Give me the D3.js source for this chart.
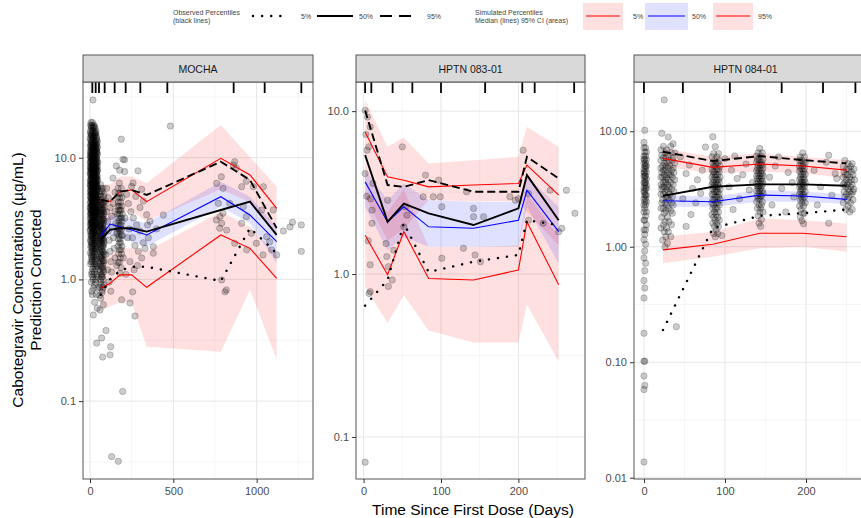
<!DOCTYPE html>
<html>
<head>
<meta charset="utf-8">
<script src="https://cdnjs.cloudflare.com/ajax/libs/d3/7.8.5/d3.min.js"></script>
<style>
  body { margin: 0; background: #fff; }
  svg { display: block; font-family: "Liberation Sans", Arial, sans-serif; }
</style>
</head>
<body>
<div id="chart"></div>
<script>
// ---------------- data ----------------

// MOCHA
const mochaRug = [14, 34, 54, 88, 148, 214, 302, 464, 862, 1048, 1268];
const mochaBinDays = [64, 120, 180, 250, 340, 785, 960, 1120];
const mochaObs5  = [0.75, 1.0, 1.18, 1.27, 1.27, 0.97, 2.64, 1.64];
const mochaObs50 = [2.11, 2.55, 2.63, 2.63, 2.47, 3.72, 4.35, 2.32];
const mochaObs95 = [4.5, 4.35, 5.26, 5.44, 4.94, 9.27, 6.56, 2.64];
const mochaSim5  = [0.845, 0.929, 1.09, 1.09, 0.861, 2.32, 1.80, 1.02];
const mochaSim50 = [2.27, 2.85, 2.71, 2.55, 2.32, 4.78, 3.38, 2.04];
const mochaSim95 = [4.49, 4.35, 5.26, 5.44, 4.35, 9.89, 7.21, 3.84];
const mochaSim5Lo  = [0.55, 0.6, 0.65, 0.65, 0.28, 0.255, 0.82, 0.22];
const mochaSim5Hi  = [1.5, 1.6, 1.8, 1.8, 1.7, 3.6, 2.7, 1.6];
const mochaSim50Lo = [1.85, 2.3, 2.2, 2.05, 1.86, 3.95, 2.89, 1.36];
const mochaSim50Hi = [2.8, 3.4, 3.3, 3.1, 2.9, 6.35, 4.78, 2.71];
const mochaSim95Lo = [3.0, 3.0, 3.6, 3.6, 3.0, 5.5, 4.3, 2.3];
const mochaSim95Hi = [6.0, 6.0, 7.0, 7.0, 6.16, 18.6, 10.1, 5.78];

// observed points, rows of [value, [days]]
const mochaColA = [
  [19.5,[6,15]],[18.5,[3,11,24]],[17.5,[8,18,30]],[16.5,[2,13,22,36]],[15.5,[5,10,27,33]],
  [14.5,[1,16,20,39]],[13.5,[7,12,25,31,44]],[12.7,[4,14,19,28,37]],[12,[9,17,23,34,42]],
  [11.3,[2,11,21,29,40]],[10.7,[6,15,26,32,45]],[10.1,[3,13,18,24,36]],[9.6,[8,10,20,30,41]],
  [9.1,[1,12,22,27,38,46]],[8.6,[5,16,19,33,43]],[8.2,[4,9,25,29,35]],[7.8,[7,14,21,31,40,44]],
  [7.4,[2,11,17,26,37]],[7.0,[6,13,23,28,34,42]],[6.6,[3,10,19,30,39,45]],[6.3,[8,15,22,27,36]],
  [6.0,[1,12,18,24,32,41]],[5.7,[5,9,20,29,38,46]],[5.4,[4,14,25,33,43]],[5.1,[7,11,16,21,31,37]],
  [4.85,[2,13,23,28,35,44]],[4.6,[6,10,18,26,40]],[4.35,[3,15,20,30,39,45]],[4.1,[8,12,24,32,42]],
  [3.9,[1,17,22,27,36]],[3.7,[5,9,14,29,34,41]],[3.5,[4,11,19,25,38,46]],[3.3,[7,16,21,31,43]],
  [3.1,[2,13,23,28,35]],[2.95,[6,10,18,33,40]],[2.8,[3,15,26,30,44]],[2.65,[8,12,20,37]],
  [2.5,[1,17,24,29,42]],[2.35,[5,14,22,34]],[2.2,[9,19,27,39]],[2.05,[4,11,31,45]],
  [1.9,[7,16,25,36]],[1.78,[13,21,33,41]],[1.65,[2,18,28]],[1.52,[10,23,38]],[1.4,[6,15,30]],
  [1.28,[20,35,44]],[1.15,[12,26]],[1.05,[17,40]],[0.95,[8,32]],[0.85,[22,46]],[0.75,[14,37]],
  [0.65,[28]],[0.58,[43]],[0.51,[20]],[0.3,[40]],[29.8,[18]]
];
const mochaColA2 = [
  [18,[9,21,27]],[16,[4,17,29,34]],[15,[8,19,24,38]],[14,[3,11,23,35,42]],[13,[6,16,21,30,40]],
  [12.3,[2,10,26,33,45]],[11.6,[7,14,19,31,38]],[11,[4,12,24,36,43]],[10.4,[1,9,17,28,41]],
  [9.9,[6,15,22,33,39]],[9.3,[3,11,25,31,44]],[8.9,[8,13,20,27,36]],[8.4,[2,10,18,30,42]],
  [8.0,[5,16,23,34,46]],[7.6,[1,9,19,28,39]],[7.2,[4,15,21,32,43]],[6.8,[7,12,25,36,41]],
  [6.45,[2,17,24,31,44]],[6.15,[5,11,20,29,38]],[5.85,[3,14,26,35,42]],[5.55,[8,18,23,32,45]],
  [5.25,[1,10,22,27,40]],[5.0,[6,15,24,30,37]],[4.7,[4,12,20,33,41]],[4.45,[9,17,28,35,46]],
  [4.2,[2,14,19,25,38]],[4.0,[6,11,23,30,44]],[3.8,[3,16,21,32,40]],[3.6,[8,13,27,35,43]],
  [3.4,[1,10,24,30,37]],[3.2,[5,18,26,33,45]],[3.0,[9,14,21,39]],[2.87,[4,12,28,36]],
  [2.72,[7,19,25,41]],[2.58,[2,16,31,38]],[2.42,[10,22,27,44]],[2.28,[6,13,33,40]],
  [2.12,[3,18,25,36]],[1.98,[9,21,29,43]],[1.84,[5,14,34]],[1.7,[11,24,39]],[1.58,[8,19,32]],
  [1.46,[13,27,41]],[1.34,[4,25,37]],[1.22,[16,31]],[1.1,[9,23,42]],[1.0,[19,35]],[0.9,[27]],[0.8,[11]]
];
const mochaColB = [
  [6.0,[64]],[5.3,[72,60]],[4.8,[80,66]],[4.3,[62,76,84]],[3.9,[68,58,80]],[3.6,[74,64,82]],
  [3.3,[60,70,78]],[3.05,[66,84,72]],[2.8,[58,76,62]],[2.6,[68,80,74]],[2.4,[64,72,84]],
  [2.2,[60,78,70]],[2.05,[66,82]],[1.9,[74,62,80]],[1.75,[58,70]],[1.6,[76,66,84]],[1.48,[64,72]],
  [1.36,[60,80]],[1.25,[68,76]],[1.15,[62,82]],[1.05,[74,70]],[0.95,[66]],[0.86,[78,60]],
  [0.78,[72]],[0.7,[64]],[0.62,[80]],[0.56,[60]],[0.33,[70]],[0.23,[76]]
];
const mochaColB2 = [
  [5.6,[68,78]],[5.0,[62,84]],[4.5,[70,58]],[4.1,[66,74,82]],[3.75,[60,72,78]],[3.45,[68,84,62]],
  [3.15,[74,58,80]],[2.9,[64,70,82]],[2.7,[60,78,66]],[2.5,[72,84,58]],[2.3,[62,68,76]],
  [2.12,[80,64,72]],[1.97,[58,70,84]],[1.82,[66,78]],[1.68,[62,74,82]],[1.54,[60,68]],
  [1.42,[70,78,84]],[1.3,[64,74]],[1.2,[58,80]],[1.1,[66,72]],[1.0,[62,78]],[0.9,[68,84]],
  [0.82,[74]],[0.74,[58]]
];
const mochaColC = [
  [6.2,[176]],[5.6,[168,188]],[5.1,[182,172]],[4.7,[192,178,166]],[4.3,[184,170]],[4.0,[176,190,168]],
  [3.7,[180,186,172]],[3.45,[166,194,178]],[3.2,[184,170,188]],[3.0,[174,192]],[2.8,[168,180,186]],
  [2.6,[176,190,172]],[2.45,[182,166]],[2.3,[188,174,194]],[2.15,[170,180]],[2.0,[184,176]],
  [1.87,[192,168]],[1.75,[178,186]],[1.62,[172,190]],[1.5,[182]],[1.38,[168,176]],[1.25,[186]],
  [1.12,[180]],[0.68,[190]]
];
const mochaScatter = [
  [96,0.38],[120,0.24],[124,0.28],[130,0.035],[170,0.032],[196,0.12],[188,14.2],[198,9.7],[208,9.6],
  [158,8.55],[178,7.9],[208,7.7],[288,7.8],[138,6.8],[258,6.2],[482,18.2],
  [95,4.4],[100,3.6],[105,3.0],[110,2.5],[115,2.1],[120,1.7],[125,1.4],[130,3.3],[135,2.7],
  [140,2.2],[145,1.8],[150,1.5],[155,2.9],[160,2.4],[100,5.6],[110,4.7],[120,3.9],[130,1.15],
  [140,4.2],[150,3.6],[160,1.3],[95,1.6],[105,1.2],[115,0.95],[125,0.8],
  [150,5.2],[220,5.0],[230,4.2],[245,3.6],[260,3.2],[280,2.8],[300,3.9],[320,4.4],[340,3.4],
  [235,2.6],[255,2.2],[270,1.9],[290,1.7],[310,1.5],[330,1.8],[350,2.2],[240,1.4],[265,1.2],
  [285,1.3],[215,1.1],[256,0.79],[270,0.5],[240,0.64],[300,2.5],[320,2.0],[345,2.8],[210,3.2],
  [225,2.2],[200,1.5],[360,3.0],[275,4.8],[310,5.5],[250,5.8],
  [440,3.38],[380,1.86],[380,1.64],[400,2.6],[760,6.16],[770,4.22],[780,3.28],[790,2.89],[820,2.54],
  [790,0.99],[810,0.79],[818,0.82],[860,8.7],[910,5.78],[980,5.78],[1040,5.78],[920,3.96],
  [910,2.89],[940,1.75],[1030,3.72],[1060,2.24],[1090,1.75],[1100,3.72],[1120,1.59],[788,6.98],
  [798,5.6],[868,9.27],[878,8.2],[938,6.4],[758,3.08],[778,2.63],[798,3.5],[838,4.22],[868,1.98],
  [938,3.28],[968,2.39],[998,1.98],[1038,1.59],[1078,2.04],[1160,2.5],[1200,2.7],[1215,2.95],
  [1268,2.8],[1268,1.7]
];

// HPTN 083-01
const h083Rug = [2, 10, 37.5, 63, 100, 157, 205, 221, 272];
const h083BinDays = [2, 31, 52, 84, 142, 200, 211, 252];
const h083Obs5  = [0.64, 0.92, 2.05, 1.03, 1.19, 1.31, 2.14, 2.0];
const h083Obs50 = [5.37, 2.09, 2.71, 2.36, 2.0, 2.53, 4.05, 2.14];
const h083Obs95 = [10.1, 3.52, 3.43, 3.77, 3.2, 3.2, 5.25, 3.86];
const h083Sim5  = [1.73, 0.99, 1.82, 0.94, 0.92, 1.06, 2.09, 0.86];
const h083Sim50 = [3.68, 2.09, 2.59, 1.95, 1.91, 2.14, 3.27, 1.82];
const h083Sim95 = [7.46, 3.95, 3.77, 3.43, 3.52, 3.6, 4.66, 3.05];
const h083Sim5Lo  = [0.83, 0.50, 0.74, 0.45, 0.38, 0.38, 0.65, 0.29];
const h083Sim5Hi  = [3.2, 2.4, 3.3, 1.47, 1.47, 1.5, 3.1, 1.7];
const h083Sim50Lo = [2.59, 1.40, 1.69, 1.47, 1.47, 1.47, 2.59, 1.16];
const h083Sim50Hi = [4.35, 2.84, 3.6, 2.84, 2.78, 2.78, 3.95, 2.59];
const h083Sim95Lo = [3.0, 1.6, 1.9, 2.84, 2.8, 2.8, 2.4, 1.5];
const h083Sim95Hi = [11.7, 6.04, 6.9, 4.78, 5.0, 5.25, 8.0, 6.04];
const h083Points = [
  [2,10.1],[8.6,8.0],[6.5,6.04],[4.4,5.76],[2,4.14],[3,7.2],[5,9.2],[10.8,2.05],[8.6,1.14],
  [8.6,0.78],[7,0.76],[9,2.9],[11,2.47],[12,3.6],[4,3.0],[6,1.6],[2,0.07],[32,1.11],[32,0.84],
  [29,1.54],[30,1.28],[39,1.4],[31,2.84],[37,0.92],[52,1.95],[50,6.04],[54,2.59],[56,2.3],
  [80,4.05],[77,2.98],[90,2.98],[97,3.77],[99,2.98],[101,2.59],[101,1.25],[129,1.44],[133,3.2],
  [142,2.53],[142,2.25],[144,1.31],[151,1.19],[155,2.25],[189,2.98],[196,2.84],[200,2.9],
  [206,5.75],[213,3.12],[213,2.14],[232,2.05],[241,3.27],[252,1.82],[256,1.91],[262,3.27],[273,2.36]
];

// HPTN 084-01
const h084Rug = [0, 48, 106, 170, 221, 261];
const h084BinDays = [23.5, 85, 143, 196, 250];
const h084Obs5  = [0.19, 1.45, 1.85, 1.95, 2.1];
const h084Obs50 = [2.76, 3.31, 3.47, 3.47, 3.37];
const h084Obs95 = [6.65, 5.52, 6.1, 5.63, 5.27];
const h084Sim5  = [0.94, 1.05, 1.31, 1.31, 1.22];
const h084Sim50 = [2.5, 2.45, 2.8, 2.75, 2.57];
const h084Sim95 = [5.82, 4.87, 5.2, 5.0, 4.61];
const h084Sim5Lo  = [0.72, 0.82, 0.97, 1.0, 0.905];
const h084Sim5Hi  = [1.22, 1.35, 1.76, 1.70, 1.59];
const h084Sim50Lo = [2.22, 2.22, 2.45, 2.45, 2.34];
const h084Sim50Hi = [2.80, 2.71, 3.10, 2.99, 2.86];
const h084Sim95Lo = [4.93, 4.32, 4.46, 4.32, 3.91];
const h084Sim95Hi = [7.11, 6.01, 6.44, 6.01, 5.63];
const h084Col0 = [
  [10.2,[1]],[8.0,[0]],[7.2,[2,0]],[6.6,[1,3]],[6.1,[0,2]],[5.7,[1,3,0]],[5.3,[2,0]],[5.0,[1,3,2]],
  [4.7,[0,2]],[4.4,[1,3,0]],[4.1,[2,0,1]],[3.85,[3,1]],[3.6,[0,2,1]],[3.4,[1,3]],[3.2,[2,0,3]],
  [3.0,[1,0]],[2.8,[3,2,1]],[2.6,[0,2]],[2.45,[1,3]],[2.3,[0,2]],[2.15,[1]],[2.0,[3,0]],[1.85,[2]],
  [1.7,[1,0]],[1.55,[3]],[1.4,[0,2]],[1.28,[1]],[1.15,[0]],[1.05,[2]],[0.92,[1]],[0.8,[0]],
  [0.72,[2]],[0.62,[1]],[0.51,[0]],[0.44,[1]],[0.36,[0]],[0.178,[0]],[0.102,[1,0]],[0.076,[0]],
  [0.063,[1]],[0.058,[0]],[0.0137,[0]]
];
const h084Col1 = [
  [18.7,[25]],[9.6,[22]],[8.9,[30]],[7.8,[36]],[7.4,[24,33]],[6.9,[28,21]],[6.5,[34,26,38]],
  [6.2,[22,30]],[5.9,[27,36,24]],[5.6,[31,21,35]],[5.3,[25,29,38]],[5.0,[23,32,27]],[4.8,[36,21,30]],
  [4.6,[26,34,24]],[4.4,[29,22,37]],[4.2,[31,25,33]],[4.0,[23,28,35,21]],[3.8,[30,26,38]],
  [3.6,[24,33,27]],[3.45,[21,29,36]],[3.3,[31,25,23]],[3.15,[34,28,22]],[3.0,[26,37,30]],
  [2.85,[24,32,21]],[2.7,[29,35,27]],[2.55,[23,31]],[2.4,[26,34,22]],[2.3,[28,36]],[2.15,[24,30,21]],
  [2.05,[33,27]],[1.95,[25,35]],[1.8,[22,29]],[1.65,[31,26]],[1.55,[24,34]],[1.45,[21,28]],
  [1.35,[30,25]],[1.22,[27,33]],[1.14,[23]],[1.07,[29]],[1.0,[26]],[0.203,[40]]
];
const h084Col2 = [
  [8.97,[85]],[7.35,[88]],[6.4,[92,86]],[6.0,[90,84]],[5.6,[87,93]],[5.3,[85,91,89]],[5.0,[94,86,88]],
  [4.7,[84,90,92]],[4.45,[87,93,85]],[4.2,[89,91,86]],[4.0,[84,88,94]],[3.8,[90,86,92]],
  [3.6,[85,89,93]],[3.45,[87,91,84]],[3.3,[92,86,88]],[3.15,[90,85,94]],[3.0,[87,91,89]],
  [2.85,[84,93,86]],[2.7,[88,90,92]],[2.55,[85,87,94]],[2.4,[89,91,84]],[2.3,[86,93]],
  [2.15,[88,90,85]],[2.0,[92,87]],[1.9,[84,89]],[1.8,[91,86]],[1.7,[88,93]],[1.6,[85,90]],
  [1.5,[87,92]],[1.4,[89]],[1.3,[86,91]],[1.22,[88]]
];
const h084Col3 = [
  [7.1,[143]],[6.5,[141,146]],[6.1,[139,144]],[5.7,[142,147,140]],[5.4,[145,139,143]],
  [5.1,[141,146,144]],[4.8,[140,143,147]],[4.55,[142,145,139]],[4.3,[144,141,146]],[4.1,[139,143,147]],
  [3.9,[142,145,140]],[3.7,[144,141,146]],[3.5,[139,143,147]],[3.35,[142,145,140]],[3.2,[144,141]],
  [3.05,[146,139,143]],[2.9,[142,147]],[2.75,[140,145,144]],[2.6,[141,143]],[2.45,[146,139]],
  [2.3,[142,145]],[2.15,[140,144]],[2.0,[143,147]],[1.85,[141]],[1.72,[145]],[1.6,[142]],[1.5,[144]]
];
const h084Col4 = [
  [6.5,[196]],[6.0,[193,198]],[5.6,[195,192]],[5.3,[197,194,199]],[5.0,[192,196]],[4.75,[198,193,195]],
  [4.5,[197,192]],[4.25,[194,199,196]],[4.0,[193,197]],[3.8,[195,192,198]],[3.6,[194,196,199]],
  [3.45,[193,197]],[3.3,[192,195,198]],[3.15,[194,196]],[3.0,[199,193]],[2.85,[197,195,192]],
  [2.7,[194,198]],[2.55,[196,193]],[2.4,[199,195]],[2.25,[192,197]],[2.1,[194]],[1.95,[196,198]],
  [1.8,[193]],[1.68,[195]],[1.58,[197]]
];
const h084Col5 = [
  [5.6,[248]],[5.25,[252,257]],[4.95,[246,255]],[4.7,[250,259,253]],[4.45,[247,256]],
  [4.2,[251,258,249]],[4.0,[254,246]],[3.8,[260,250,256]],[3.6,[248,253]],[3.45,[257,251,246]],
  [3.3,[255,249]],[3.15,[259,252]],[3.0,[247,254,258]],[2.85,[250,256]],[2.7,[253,248]],
  [2.55,[258,251]],[2.4,[246,255]],[2.25,[252]],[2.1,[257,249]],[2.0,[254]]
];
const h084Scatter = [
  [45,6.0],[52,4.3],[60,3.2],[48,2.6],[56,5.1],[66,3.8],[72,4.6],[64,2.4],[58,1.9],[70,2.9],[76,7.3],
  [100,5.8],[108,4.6],[115,3.9],[122,4.2],[130,3.1],[105,3.3],[118,2.6],[126,5.2],[112,6.1],
  [134,3.6],[110,2.1],[155,4.0],[162,5.0],[170,3.2],[178,4.4],[185,2.7],[158,2.3],[166,6.0],
  [175,2.0],[183,3.6],[210,4.6],[218,3.3],[225,5.4],[232,2.8],[238,3.9],[214,2.3],[228,6.2],
  [236,4.3],[52,1.5],[96,1.25],[228,1.6]
];

// axis ticks
const mochaXTicks = [0, 500, 1000];
const hptnXTicks = [0, 100, 200];
const yTicks2 = [0.1, 1, 10];
const yTicks3 = [0.01, 0.1, 1, 10];
const yMinorAll = [0.00316, 0.0316, 0.316, 3.16, 31.6];

// ---------------- layout ----------------
const width = 861, height = 518;
const plotTop = 82, plotBottom = 479, stripTop = 55;

function rowsToPoints(rows){
  return rows.flatMap(([v, days]) => days.map(t => [t, v]));
}

const panels = [
  { name: "MOCHA", left: 83, right: 313, xDomain: [-42, 1338], yDomain: [0.0229, 41.9],
    xTicks: mochaXTicks, xMinor: [250, 750, 1250], yTicks: yTicks2, yFmt: d3.format(".1f"),
    rug: mochaRug, t: mochaBinDays,
    obs5: mochaObs5, obs50: mochaObs50, obs95: mochaObs95,
    sim5: mochaSim5, sim50: mochaSim50, sim95: mochaSim95,
    s5lo: mochaSim5Lo, s5hi: mochaSim5Hi, s50lo: mochaSim50Lo, s50hi: mochaSim50Hi,
    s95lo: mochaSim95Lo, s95hi: mochaSim95Hi,
    points: [...rowsToPoints(mochaColA), ...rowsToPoints(mochaColA2), ...rowsToPoints(mochaColB),
             ...rowsToPoints(mochaColB2), ...rowsToPoints(mochaColC), ...mochaScatter] },
  { name: "HPTN 083-01", left: 356, right: 585, xDomain: [-9.8, 286], yDomain: [0.0552, 15.1],
    xTicks: hptnXTicks, xMinor: [50, 150, 250], yTicks: yTicks2, yFmt: d3.format(".1f"),
    rug: h083Rug, t: h083BinDays,
    obs5: h083Obs5, obs50: h083Obs50, obs95: h083Obs95,
    sim5: h083Sim5, sim50: h083Sim50, sim95: h083Sim95,
    s5lo: h083Sim5Lo, s5hi: h083Sim5Hi, s50lo: h083Sim50Lo, s50hi: h083Sim50Hi,
    s95lo: h083Sim95Lo, s95hi: h083Sim95Hi,
    points: h083Points },
  { name: "HPTN 084-01", left: 634, right: 864, xDomain: [-12.3, 271.6], yDomain: [0.00975, 26.7],
    xTicks: hptnXTicks, xMinor: [50, 150, 250], yTicks: yTicks3, yFmt: d3.format(".2f"),
    rug: h084Rug, t: h084BinDays,
    obs5: h084Obs5, obs50: h084Obs50, obs95: h084Obs95,
    sim5: h084Sim5, sim50: h084Sim50, sim95: h084Sim95,
    s5lo: h084Sim5Lo, s5hi: h084Sim5Hi, s50lo: h084Sim50Lo, s50hi: h084Sim50Hi,
    s95lo: h084Sim95Lo, s95hi: h084Sim95Hi,
    points: [...rowsToPoints(h084Col0), ...rowsToPoints(h084Col1), ...rowsToPoints(h084Col2),
             ...rowsToPoints(h084Col3), ...rowsToPoints(h084Col4), ...rowsToPoints(h084Col5), ...h084Scatter] }
];

const svg = d3.select("#chart").append("svg")
    .attr("width", width)
    .attr("height", height);

function drawPanel(p, i){
    const x = d3.scaleLinear().domain(p.xDomain).range([p.left, p.right]);
    const y = d3.scaleLog().domain(p.yDomain).range([plotBottom, plotTop]);
    const g = svg.append("g").attr("class", "panelG");

    svg.append("clipPath").attr("id", "clip" + i)
        .append("rect")
        .attr("x", p.left).attr("y", plotTop)
        .attr("width", p.right - p.left).attr("height", plotBottom - plotTop);

    const inner = g.append("g").attr("clip-path", "url(#clip" + i + ")");

    inner.append("rect")
        .attr("x", p.left).attr("y", plotTop)
        .attr("width", p.right - p.left).attr("height", plotBottom - plotTop)
        .attr("fill", "#fff");

    // grid, minor then major
    const yMinor = yMinorAll.filter(v => v > p.yDomain[0] && v < p.yDomain[1]);
    inner.selectAll(".yMinor").data(yMinor).join("line")
        .attr("x1", p.left).attr("x2", p.right)
        .attr("y1", d => y(d)).attr("y2", d => y(d))
        .attr("stroke", "#f2f2f2").attr("stroke-width", 0.7);
    inner.selectAll(".xMinor").data(p.xMinor).join("line")
        .attr("y1", plotTop).attr("y2", plotBottom)
        .attr("x1", d => x(d)).attr("x2", d => x(d))
        .attr("stroke", "#f2f2f2").attr("stroke-width", 0.7);
    inner.selectAll(".yMajor").data(p.yTicks).join("line")
        .attr("x1", p.left).attr("x2", p.right)
        .attr("y1", d => y(d)).attr("y2", d => y(d))
        .attr("stroke", "#e6e6e6").attr("stroke-width", 1);
    inner.selectAll(".xMajor").data(p.xTicks).join("line")
        .attr("y1", plotTop).attr("y2", plotBottom)
        .attr("x1", d => x(d)).attr("x2", d => x(d))
        .attr("stroke", "#e6e6e6").attr("stroke-width", 1);

    // simulated 95% CI areas
    const area = d3.area().x(d => x(d.t)).y0(d => y(d.lo)).y1(d => y(d.hi));
    const bands = [
        {lo: p.s95lo, hi: p.s95hi, color: "#ff0000"},
        {lo: p.s5lo, hi: p.s5hi, color: "#ff0000"},
        {lo: p.s50lo, hi: p.s50hi, color: "#0000ff"}
    ];
    bands.forEach(b => {
        const rows = p.t.map((t, k) => ({t: t, lo: b.lo[k], hi: b.hi[k]}));
        inner.append("path")
            .attr("d", area(rows))
            .attr("fill", b.color)
            .attr("fill-opacity", 0.12);
    });

    // observed points
    inner.selectAll(".obsPoint").data(p.points).join("circle")
        .attr("class", "obsPoint")
        .attr("cx", d => x(d[0]))
        .attr("cy", d => y(d[1]))
        .attr("r", 3.2)
        .attr("fill", "#000")
        .attr("fill-opacity", 0.2)
        .attr("stroke", "#000")
        .attr("stroke-opacity", 0.28)
        .attr("stroke-width", 0.7);

    const line = d3.line().x(d => x(d[0])).y(d => y(d[1]));
    const pairs = vals => p.t.map((t, k) => [t, vals[k]]);

    // simulated median lines
    [[p.sim5, "#ff0000"], [p.sim95, "#ff0000"], [p.sim50, "#0000ff"]].forEach(([vals, c]) => {
        inner.append("path")
            .attr("d", line(pairs(vals)))
            .attr("fill", "none")
            .attr("stroke", c)
            .attr("stroke-width", 1.1);
    });

    // observed percentile lines
    inner.append("path")
        .attr("d", line(pairs(p.obs5)))
        .attr("fill", "none").attr("stroke", "#000")
        .attr("stroke-width", 2.4).attr("stroke-linecap", "round")
        .attr("stroke-dasharray", "0.1,9");
    inner.append("path")
        .attr("d", line(pairs(p.obs50)))
        .attr("fill", "none").attr("stroke", "#000")
        .attr("stroke-width", 1.9);
    inner.append("path")
        .attr("d", line(pairs(p.obs95)))
        .attr("fill", "none").attr("stroke", "#000")
        .attr("stroke-width", 1.9)
        .attr("stroke-dasharray", "8,4");

    // rug at the top
    inner.selectAll(".rugTick").data(p.rug).join("line")
        .attr("x1", d => x(d)).attr("x2", d => x(d))
        .attr("y1", plotTop).attr("y2", plotTop + 11)
        .attr("stroke", "#000").attr("stroke-width", 1.8);

    // panel border
    g.append("rect")
        .attr("x", p.left).attr("y", plotTop)
        .attr("width", p.right - p.left).attr("height", plotBottom - plotTop)
        .attr("fill", "none").attr("stroke", "#555").attr("stroke-width", 1);

    // strip
    g.append("rect")
        .attr("x", p.left).attr("y", stripTop)
        .attr("width", p.right - p.left).attr("height", plotTop - stripTop)
        .attr("fill", "#d9d9d9").attr("stroke", "#555").attr("stroke-width", 1);
    g.append("text")
        .attr("x", (p.left + Math.min(p.right, width)) / 2 + (p.right > width ? -2 : 0))
        .attr("y", 73)
        .attr("text-anchor", "middle")
        .attr("font-size", "10.5px")
        .attr("fill", "#1a1a1a")
        .text(p.name);

    // axes
    const yAxisG = g.append("g")
        .attr("transform", "translate(" + p.left + ",0)")
        .call(d3.axisLeft(y).tickValues(p.yTicks).tickFormat(p.yFmt).tickSize(4).tickPadding(3));
    const xAxisG = g.append("g")
        .attr("transform", "translate(0," + plotBottom + ")")
        .call(d3.axisBottom(x).tickValues(p.xTicks).tickFormat(d3.format("d")).tickSize(4).tickPadding(4));
    [yAxisG, xAxisG].forEach(a => {
        a.select(".domain").remove();
        a.selectAll(".tick line").attr("stroke", "#333");
        a.selectAll(".tick text")
            .attr("fill", "#4d4d4d")
            .style("font-size", "11px")
            .style("font-family", "'Liberation Sans', Arial, sans-serif");
    });
}

panels.forEach((p, i) => drawPanel(p, i));

// axis titles
svg.append("text")
    .attr("x", 473).attr("y", 515)
    .attr("text-anchor", "middle")
    .attr("font-size", "15.5px")
    .attr("fill", "#000")
    .text("Time Since First Dose (Days)");
svg.append("text")
    .attr("transform", "translate(23,280) rotate(-90)")
    .attr("text-anchor", "middle")
    .attr("font-size", "15.5px")
    .attr("fill", "#000")
    .text("Cabotegravir Concentrations (µg/mL)");
svg.append("text")
    .attr("transform", "translate(41,280) rotate(-90)")
    .attr("text-anchor", "middle")
    .attr("font-size", "15.5px")
    .attr("fill", "#000")
    .text("Prediction Corrected");

// ---------------- legend ----------------
const legendG = svg.append("g").attr("class", "legendG")
    .attr("font-size", "7px").attr("fill", "#444");

legendG.append("text").attr("x", 173).attr("y", 15).text("Observed Percentiles");
legendG.append("text").attr("x", 173).attr("y", 23).text("(black lines)");

const obsKeys = [
    {x1: 253, x2: 283, dash: "0.1,9", w: 2.4, label: "5%", lx: 301},
    {x1: 317, x2: 353, dash: null, w: 2.2, label: "50%", lx: 359},
    {x1: 380, x2: 416, dash: "12,7", w: 2.2, label: "95%", lx: 427}
];
obsKeys.forEach(k => {
    const l = legendG.append("line")
        .attr("x1", k.x1).attr("x2", k.x2).attr("y1", 16).attr("y2", 16)
        .attr("stroke", "#000").attr("stroke-width", k.w)
        .attr("stroke-linecap", k.dash === "0.1,9" ? "round" : "butt");
    if (k.dash) l.attr("stroke-dasharray", k.dash);
    legendG.append("text").attr("x", k.lx).attr("y", 18.5).text(k.label);
});

legendG.append("text").attr("x", 475).attr("y", 15).text("Simulated Percentiles");
legendG.append("text").attr("x", 475).attr("y", 23).text("Median (lines) 95% CI (areas)");

const simKeys = [
    {x1: 583, x2: 623, color: "#ff0000", label: "5%", lx: 633},
    {x1: 645, x2: 688, color: "#0000ff", label: "50%", lx: 692},
    {x1: 713, x2: 753, color: "#ff0000", label: "95%", lx: 758}
];
simKeys.forEach(k => {
    legendG.append("rect")
        .attr("x", k.x1).attr("y", 3).attr("width", k.x2 - k.x1).attr("height", 27)
        .attr("fill", k.color).attr("fill-opacity", 0.12);
    legendG.append("line")
        .attr("x1", k.x1 + 3).attr("x2", k.x2 - 3).attr("y1", 16).attr("y2", 16)
        .attr("stroke", k.color).attr("stroke-width", 1.2);
    legendG.append("text").attr("x", k.lx).attr("y", 18.5).text(k.label);
});
</script>
</body>
</html>
